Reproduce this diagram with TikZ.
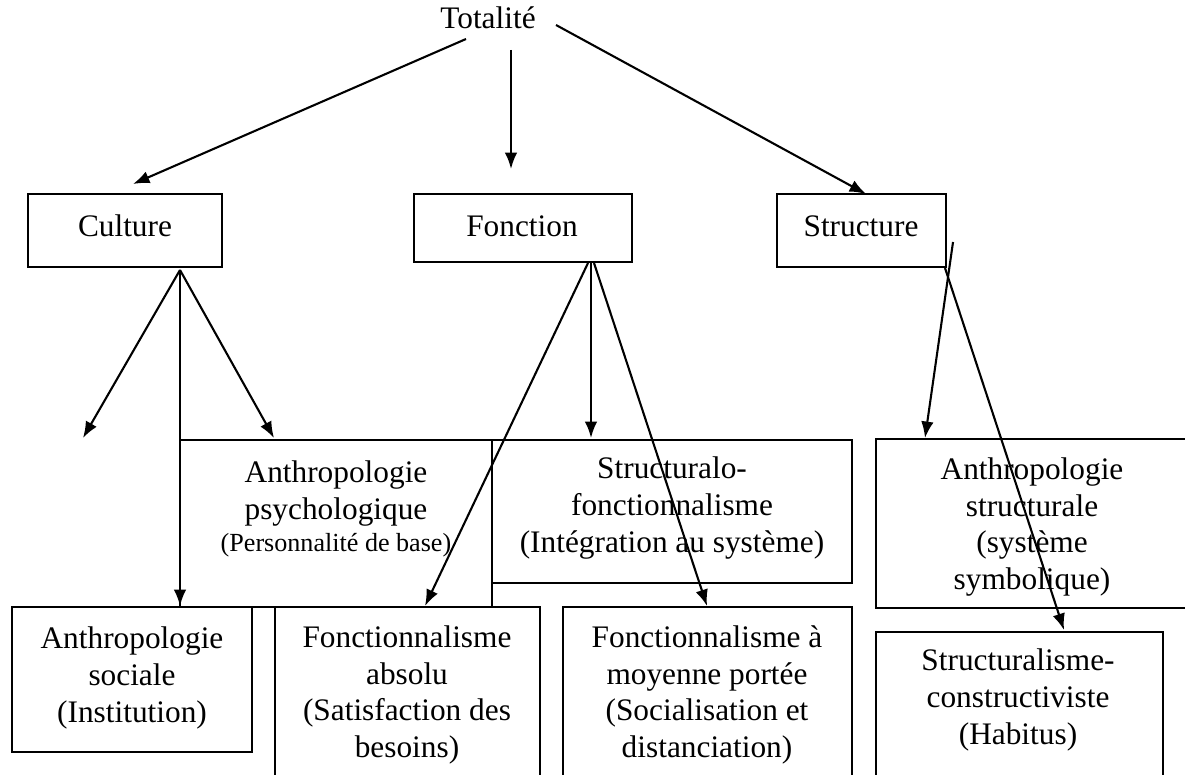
\documentclass[tikz,border=0pt]{standalone}
\usepackage{fontspec}
\setmainfont{Liberation Serif}
\usetikzlibrary{arrows.meta}
\tikzset{
  txt/.style   = {align=center, font=\fontsize{12}{14}\selectfont, inner sep=0pt},
  frame/.style = {draw, line width=0.8pt},
  link/.style  = {draw, line width=0.8pt, -{Latex[length=6.3pt,width=4.8pt]}}
}
\newcommand\smalltxt{\fontsize{10}{12}\selectfont}

\begin{document}
\begin{tikzpicture}[x=0.383pt,y=-0.383pt]
  \useasboundingbox (0,0) rectangle (1185,774);
  \clip (0,0) rectangle (1185,774);
  % frames
  \draw[frame] (28,194) rectangle (222,267);
  \draw[frame] (414,194) rectangle (632,262);
  \draw[frame] (777,194) rectangle (946,267);
  \draw[frame] (180,440) rectangle (492,607);
  \draw[frame] (492,440) rectangle (852,583);
  \draw[frame] (876,439) rectangle (1195,608);
  \draw[frame] (12,607) rectangle (252,752);
  \draw[frame] (275,607) rectangle (540,800);
  \draw[frame] (563,607) rectangle (852,800);
  \draw[frame] (876,632) rectangle (1163,800);
  % texts
  \node[txt] (totalite)  at (488,18)  {Totalité};
  \node[txt] (culture)   at (125,226) {Culture};
  \node[txt] (fonction)  at (522,226) {Fonction};
  \node[txt] (structure) at (861,226) {Structure};
  \node[txt] (anthpsy)   at (336,509) {Anthropologie\\ psychologique\\[-1.5pt] {\smalltxt(Personnalité de base)}};
  \node[txt] (structfonc)  at (672,508) {Structuralo-\\ fonctionnalisme\\ (Intégration au système)};
  \node[txt] (anthstruct)  at (1032,527) {Anthropologie\\ structurale\\ (système\\ symbolique)};
  \node[txt] (anthsoc)     at (132,678) {Anthropologie\\ sociale\\ (Institution)};
  \node[txt] (foncabs)     at (407,695) {Fonctionnalisme\\ absolu\\ (Satisfaction des\\ besoins)};
  \node[txt] (foncmoy)     at (707,695) {Fonctionnalisme à\\ moyenne portée\\ (Socialisation et\\ distanciation)};
  \node[txt] (structconst) at (1018,700) {Structuralisme-\\ constructiviste\\ (Habitus)};
  % arrow ends
  \coordinate (tot-l) at (466,39);
  \coordinate (tot-m) at (511,50);
  \coordinate (tot-r) at (556,25);
  \coordinate (cul-in) at (133,184);
  \coordinate (fon-in) at (511,169);
  \coordinate (str-in) at (866,194);
  \coordinate (cul-out) at (180,270);
  \coordinate (cul-l) at (83,438);
  \coordinate (soc-in) at (180,606);
  \coordinate (psy-in) at (274,438);
  \coordinate (fon-l) at (588,263);
  \coordinate (fon-m) at (591,263);
  \coordinate (fon-r) at (594,263);
  \coordinate (abs-in) at (425,606);
  \coordinate (sfo-in) at (591,438);
  \coordinate (moy-in) at (707,606);
  \coordinate (str-a) at (953,242);
  \coordinate (str-b) at (945,268);
  \coordinate (ast-in) at (925,438);
  \coordinate (con-in) at (1064,630);
  % connectors
  \draw[link] (tot-l) -- (cul-in);
  \draw[link] (tot-m) -- (fon-in);
  \draw[link] (tot-r) -- (str-in);
  \draw[link] (cul-out) -- (cul-l);
  \draw[link] (cul-out) -- (soc-in);
  \draw[link] (cul-out) -- (psy-in);
  \draw[link] (fon-l) -- (abs-in);
  \draw[link] (fon-m) -- (sfo-in);
  \draw[link] (fon-r) -- (moy-in);
  \draw[link] (str-a) -- (ast-in);
  \draw[link] (str-b) -- (con-in);
\end{tikzpicture}
\end{document}
